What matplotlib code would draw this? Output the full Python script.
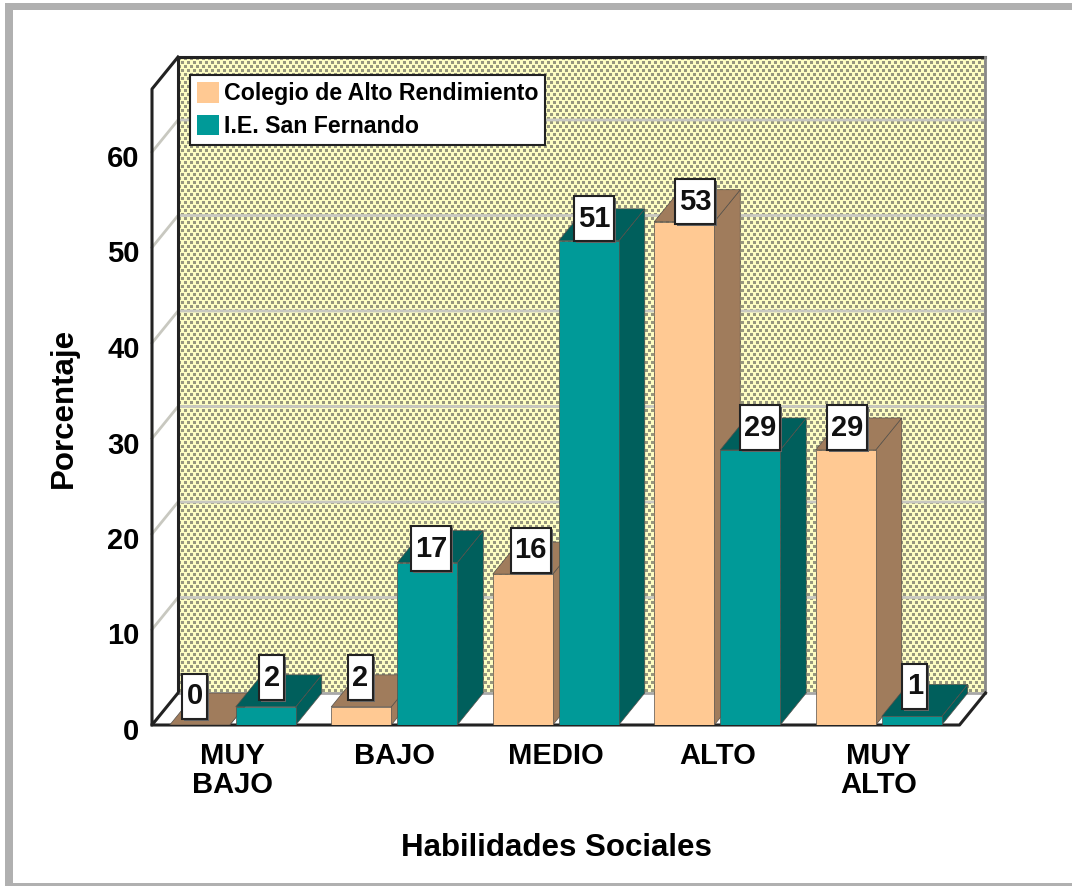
import numpy as np
import matplotlib
matplotlib.use("Agg")
import matplotlib.pyplot as plt
from matplotlib.patches import Patch, Polygon, Rectangle
from matplotlib.transforms import ScaledTranslation

plt.rcParams["font.family"] = ["Liberation Sans", "DejaVu Sans"]
plt.rcParams["font.weight"] = "bold"

categories = ["MUY\nBAJO", "BAJO", "MEDIO", "ALTO", "MUY\nALTO"]
series_names = ["Colegio de Alto Rendimiento", "I.E. San Fernando"]
alto_rendimiento = [0.0, 1.9, 15.8, 52.7, 28.8]
san_fernando = [1.9, 17.0, 50.7, 28.8, 0.9]
alto_labels = ["0", "2", "16", "53", "29"]
san_labels = ["2", "17", "51", "29", "1"]
y_ticks = [0, 10, 20, 30, 40, 50, 60]

# label box offsets from the front top centre of each bar, in pixels
alto_offsets = [(-5, 29), (-1, 29), (8, 24), (11, 20), (1, 22)]
san_offsets = [(6, 29), (4, 14), (5, 22), (10, 22), (3, 30)]

W, H = 1072, 886
PEACH, PEACH_DK = "#ffc993", "#a07c5c"
TEAL, TEAL_DK = "#009a98", "#005f5c"

fig = plt.figure(figsize=(W / 100, H / 100), dpi=100, facecolor="white")

# gray frame of the picture
for fx, fy, fw, fh in [(5, 3, 8, 883), (5, 3, 1067, 7), (5, 883, 1067, 3)]:
    fig.add_artist(Rectangle((fx / W, 1 - (fy + fh) / H), fw / W, fh / H, transform=fig.transFigure,
                             fc="#b0b0b0", ec="none"))

# axes cover front plane plus the depth offset
left, right, top, bottom = 152, 987, 57, 725
ax = fig.add_axes([left / W, 1 - bottom / H, (right - left) / W, (bottom - top) / H])
px_x = 1 / 161.5  # data units per pixel
px_y = 1 / 9.55
xlim = (-0.5, -0.5 + (right - left) * px_x)
ylim = (0, (bottom - top) * px_y)
for s in ax.spines.values():
    s.set_visible(False)
ax.patch.set_visible(False)

dx, dy = 26 * px_x, 32 * px_y
x0, x1 = -0.5, 4.5
y1 = ylim[1] - dy

# back wall with dotted texture
tile = np.zeros((8, 6, 3))
tile[:] = matplotlib.colors.to_rgb("#fdfdc2")
tile[0:3, 0:3] = matplotlib.colors.to_rgb("#96967e")
tile[4:7, 3:6] = matplotlib.colors.to_rgb("#96967e")
nx, ny = right - 178, 693 - top
texture = np.tile(tile, (ny // 8 + 1, nx // 6 + 1, 1))[:ny, :nx]
ax.imshow(texture, extent=[x0 + dx, x1 + dx, dy, y1 + dy], aspect="auto",
          interpolation="nearest", zorder=1, origin="upper")
ax.set_xlim(*xlim)
ax.set_ylim(*ylim)

# floor and left wall
ax.add_patch(Polygon([(x0, 0), (x0 + dx, dy), (x1 + dx, dy), (x1, 0)], fc="white", ec="none", zorder=1))
ax.add_patch(Polygon([(x0, 0), (x0 + dx, dy), (x0 + dx, y1 + dy), (x0, y1)], fc="white", ec="none", zorder=1))

# grid on walls
for t in y_ticks[1:]:
    ax.plot([x0, x0 + dx, x1 + dx], [t, t + dy, t + dy], color="#c8c8c0", lw=2, zorder=2, clip_on=False)

# frame lines
ax.plot([x0 + dx, x0 + dx], [dy, y1 + dy], color="#555555", lw=2, zorder=3)
ax.plot([x0 + dx, x0 + dx, x1 + dx], [dy, y1 + dy, y1 + dy], color="#222222", lw=2.2, zorder=3, clip_on=False)
ax.plot([x0 + dx, x1 + dx], [dy, dy], color="#a8a8a8", lw=2, zorder=3)
ax.plot([x1 + dx, x1 + dx], [dy, y1 + dy], color="#888888", lw=2, zorder=3, clip_on=False)
ax.plot([x0 + dx, x0, x0, x0 + dx], [dy, 0, y1, y1 + dy], color="#222222", lw=2.2, zorder=3, clip_on=False)
ax.plot([x0, x1, x1 + dx], [0, 0, dy], color="#222222", lw=2.2, zorder=3, clip_on=False)


def bar3d(xc, val, width, front, dark, z):
    l, r = xc - width / 2, xc + width / 2
    ax.add_patch(Polygon([(r, 0), (r + dx, dy), (r + dx, val + dy), (r, val)], fc=dark, ec="#55504a", lw=0.5, zorder=z))
    ax.add_patch(Polygon([(l, val), (l + dx, val + dy), (r + dx, val + dy), (r, val)], fc=dark, ec="#55504a", lw=0.5, zorder=z))
    if val > 0:
        ax.add_patch(Rectangle((l, 0), width, val, fc=front, ec="#55504a", lw=0.5, zorder=z))


def value_box(xc, val, text, offset, z):
    w = (40 if len(text) > 1 else 25) * px_x
    h = 45 * px_y
    cx, cy = xc + offset[0] * px_x, val + offset[1] * px_y
    ax.add_patch(Rectangle((cx - w / 2 + 2 * px_x, cy - h / 2 - 2 * px_y), w, h, fc="#666666", ec="none", zorder=z))
    ax.add_patch(Rectangle((cx - w / 2, cy - h / 2), w, h, fc="white", ec="#222222", lw=1.5, zorder=z + 0.1))
    ax.text(cx, cy, text, ha="center", va="center", fontsize=21, zorder=z + 0.2, color="#111111")


bar_w = 60 * px_x
gap = 33 * px_x
for i in range(len(categories)):
    bar3d(i - gap, alto_rendimiento[i], bar_w, PEACH, PEACH_DK, 5 + 2 * i)
    bar3d(i + gap, san_fernando[i], bar_w, TEAL, TEAL_DK, 6 + 2 * i)
for i in range(len(categories)):
    value_box(i - gap, alto_rendimiento[i], alto_labels[i], alto_offsets[i], 30)
    value_box(i + gap, san_fernando[i], san_labels[i], san_offsets[i], 30)

ax.set_xticks(range(len(categories)))
ax.set_xticklabels(categories, fontsize=21, linespacing=1.05)
ax.set_yticks(y_ticks)
ax.set_yticklabels(y_ticks, fontsize=21)
ax.tick_params(axis="both", length=0)
ax.tick_params(axis="x", pad=12)
ax.tick_params(axis="y", pad=9)

# y labels sit a little under their gridlines
shift = ScaledTranslation(0, -4 / 100, fig.dpi_scale_trans)
for lab in ax.get_yticklabels():
    lab.set_transform(lab.get_transform() + shift)

fig.text(64 / W, 1 - 408 / H, "Porcentaje", rotation=90, ha="center", va="center", fontsize=22.5)
fig.text(556 / W, 1 - 848 / H, "Habilidades Sociales", ha="center", va="center", fontsize=22.5)

handles = [Patch(fc=PEACH, ec="none"), Patch(fc=TEAL, ec="none")]
leg = ax.legend(handles, series_names, loc="upper left",
                bbox_to_anchor=((190 - left) / (right - left), 1 - (75 - top) / (bottom - top)),
                fontsize=16.7, fancybox=False, framealpha=1, edgecolor="#222222",
                borderaxespad=0, borderpad=0.3, handlelength=0.95, handleheight=1.0,
                handletextpad=0.2, labelspacing=0.4)
leg.set_zorder(40)
leg.get_frame().set_linewidth(1.5)

fig.savefig("out.png", dpi=100)
